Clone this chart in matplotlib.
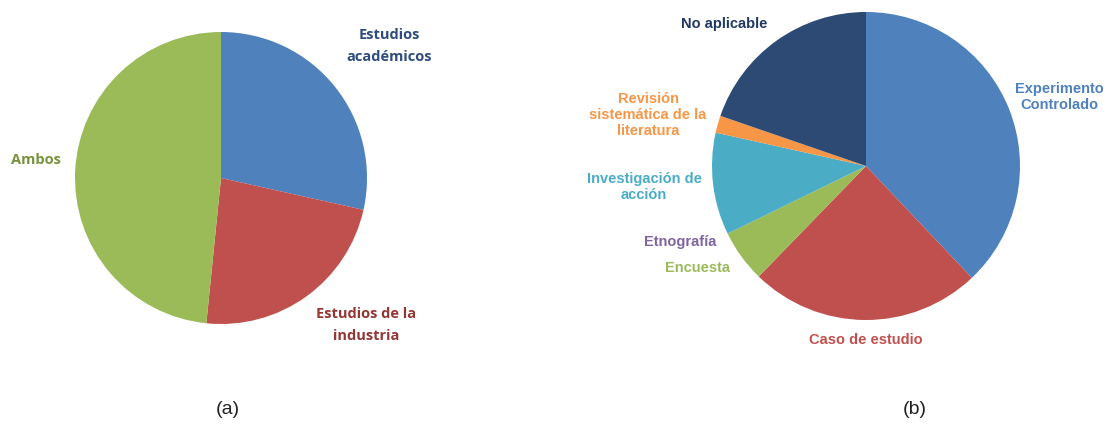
import matplotlib
matplotlib.use("Agg")
import matplotlib.pyplot as plt

# (a) source of the studies
src_labels = ["Estudios\nacadémicos", "Estudios de la\nindustria", "Ambos"]
src_values = [28.5, 23.1, 48.4]
src_colors = ["#4F81BD", "#C0504D", "#9BBB59"]
src_text_colors = ["#2E4C7E", "#943634", "#77933C"]

# (b) research method
met_labels = ["Experimento\nControlado", "Caso de estudio", "Encuesta", "Etnografía",
              "Investigación de\nacción", "Revisión\nsistemática de la\nliteratura", "No aplicable"]
met_values = [37.9, 24.3, 5.5, 0.0, 10.7, 1.8, 19.7]
met_colors = ["#4F81BD", "#C0504D", "#9BBB59", "#8064A2", "#4BACC6", "#F79646", "#2C4A74"]
met_text_colors = ["#4F81BD", "#C0504D", "#9BBB59", "#8064A2", "#4BACC6", "#F79646", "#1F3864"]

W, H = 1112, 431
fig = plt.figure(figsize=(W / 100, H / 100), dpi=100)
ax = fig.add_axes([0, 0, 1, 1])

def Y(py):
    return H - py

ax.pie(src_values, colors=src_colors, startangle=90, counterclock=False,
       center=(221, Y(179)), radius=146, frame=True,
       wedgeprops=dict(linewidth=0))
ax.pie(met_values, colors=met_colors, startangle=90, counterclock=False,
       center=(866, Y(167)), radius=154, frame=True,
       wedgeprops=dict(linewidth=0))
ax.set_xlim(0, W)
ax.set_ylim(0, H)
ax.set_aspect("equal")
ax.axis("off")

fa = dict(family="Open Sans", fontweight="bold", fontsize=10.5, ha="center", va="center",
          linespacing=1.75)
src_pos = [(389, 46), (366, 325), (36, 160)]
for (x, y), t, c in zip(src_pos, src_labels, src_text_colors):
    ax.text(x, Y(y), t, color=c, **fa)

fb = dict(family="Liberation Sans", fontweight="bold", fontsize=10.5, ha="center", va="center",
          linespacing=1.2)
met_pos = [(1059, 97), (866, 340), (697, 268), (680, 242), (644, 187), (648, 115), (724, 24)]
for (x, y), t, c in zip(met_pos, met_labels, met_text_colors):
    ax.text(x, Y(y), t, color=c, **fb)

ax.text(228, Y(410), "(a)", family="Liberation Sans", fontsize=14, ha="center", va="center",
        color="#222222")
ax.text(915, Y(410), "(b)", family="Liberation Sans", fontsize=14, ha="center", va="center",
        color="#222222")

fig.savefig("out.png", dpi=100, facecolor="white")
